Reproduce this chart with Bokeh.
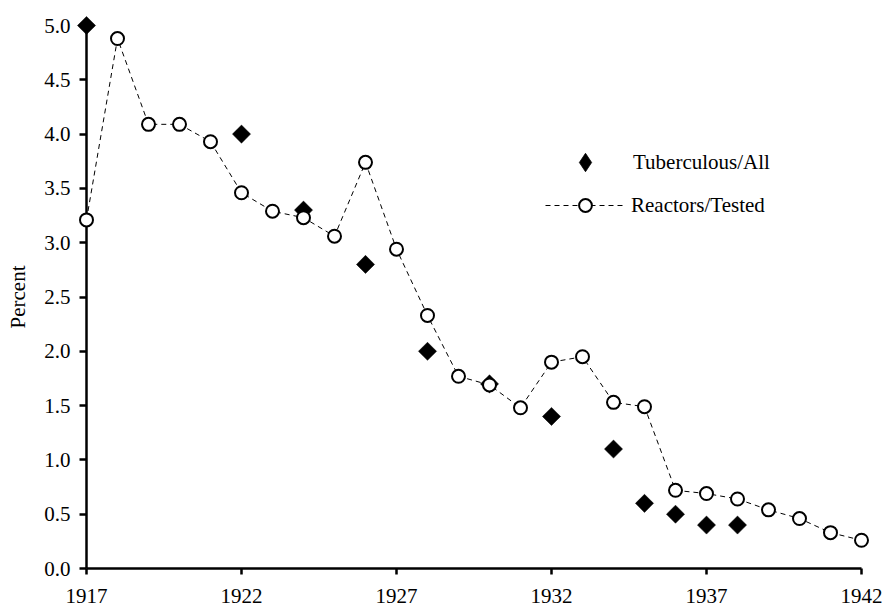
import numpy as np
from bokeh.plotting import figure
from bokeh.models import (FixedTicker, NumeralTickFormatter, Legend, LegendItem,
                          ColumnDataSource)
from bokeh.embed import file_html
from bokeh.resources import INLINE

# ---- data ----
years_tb = [1917, 1922, 1924, 1926, 1928, 1930, 1932, 1934, 1935, 1936, 1937, 1938]
tuberculous_all = [5.0, 4.0, 3.3, 2.8, 2.0, 1.7, 1.4, 1.1, 0.6, 0.5, 0.4, 0.4]

years_rt = [1917, 1918, 1919, 1920, 1921, 1922, 1923, 1924, 1925, 1926, 1927, 1928, 1929,
            1930, 1931, 1932, 1933, 1934, 1935, 1936, 1937, 1938, 1939, 1940, 1941, 1942]
reactors_tested = [3.21, 4.88, 4.09, 4.09, 3.93, 3.46, 3.29, 3.23, 3.06, 3.74, 2.94, 2.33, 1.77,
                   1.69, 1.48, 1.90, 1.95, 1.53, 1.49, 0.72, 0.69, 0.64, 0.54, 0.46, 0.33, 0.26]

x_ticks = [1917, 1922, 1927, 1932, 1937, 1942]
y_ticks = [0.0, 0.5, 1.0, 1.5, 2.0, 2.5, 3.0, 3.5, 4.0, 4.5, 5.0]

FONT = "Liberation Serif"
FS = "21px"

p = figure(width=883, height=608, x_range=(1917, 1942), y_range=(0, 5),
           output_backend="svg", toolbar_location=None,
           min_border_left=86, min_border_right=22, min_border_top=25, min_border_bottom=40)

p.xgrid.visible = False
p.ygrid.visible = False
p.outline_line_color = None
p.background_fill_color = "white"
p.border_fill_color = "white"

for ax in (p.xaxis[0], p.yaxis[0]):
    ax.axis_line_width = 2.5
    ax.axis_line_color = "black"
    ax.major_tick_line_width = 2.5
    ax.major_tick_line_color = "black"
    ax.minor_tick_line_color = None
    ax.major_tick_in = 0
    ax.major_label_text_font = FONT
    ax.major_label_text_font_size = FS
    ax.major_label_text_color = "black"
    ax.axis_label_text_font = FONT
    ax.axis_label_text_font_size = FS
    ax.axis_label_text_font_style = "normal"
    ax.axis_label_text_color = "black"

p.xaxis[0].ticker = FixedTicker(ticks=x_ticks)
p.xaxis[0].major_tick_out = 6
p.xaxis[0].major_label_standoff = 14

p.yaxis[0].ticker = FixedTicker(ticks=y_ticks)
p.yaxis[0].formatter = NumeralTickFormatter(format="0.0")
p.yaxis[0].major_tick_out = 7
p.yaxis[0].major_label_standoff = 9
p.yaxis[0].axis_label = "Percent"
p.yaxis[0].axis_label_standoff = 11

src_tb = ColumnDataSource(dict(x=years_tb, y=tuberculous_all))
src_rt = ColumnDataSource(dict(x=years_rt, y=reactors_tested))

r_d = p.scatter("x", "y", source=src_tb, marker="square", angle=np.pi / 4, size=12.8,
                fill_color="black", line_color="black", line_width=0.5)
# hidden twin used only for the legend key (legend keys ignore marker angle)
r_d_key = p.scatter("x", "y", source=src_tb, marker="diamond", size=17,
                    fill_color="black", line_color="black", line_width=0.8, visible=False)
r_line = p.line("x", "y", source=src_rt, line_dash="5 4", line_width=1, line_color="black")
r_c = p.scatter("x", "y", source=src_rt, marker="circle", size=13,
                fill_color="white", line_color="black", line_width=2)
r_d.level = "overlay"
r_c.level = "overlay"

common = dict(border_line_color=None, background_fill_alpha=0, padding=0, margin=0,
              glyph_width=80, label_text_font=FONT, label_text_font_size=FS,
              label_text_color="black", click_policy="none")

legend1 = Legend(items=[LegendItem(label="Tuberculous/All", renderers=[r_d_key])],
                 location=(459, 383), glyph_height=46, label_height=46,
                 label_standoff=8, **common)
legend2 = Legend(items=[LegendItem(label="Reactors/Tested", renderers=[r_line, r_c])],
                 location=(459, 347), glyph_height=32, label_height=32,
                 label_standoff=6, **common)
p.add_layout(legend1)
p.add_layout(legend2)

open("out.html", "w").write(file_html(p, INLINE))
